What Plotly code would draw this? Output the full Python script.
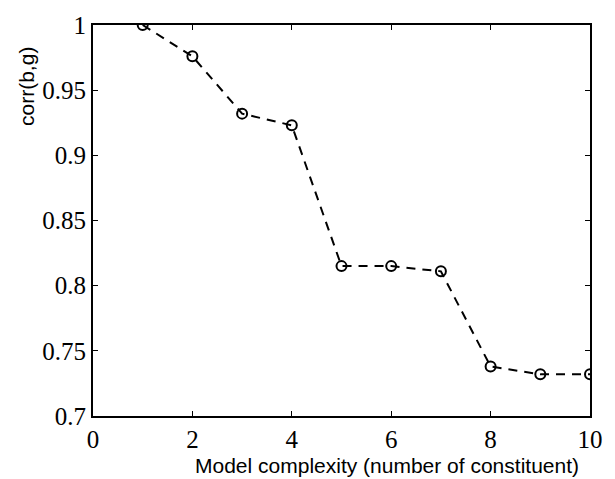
import plotly.graph_objects as go

complexity = [1, 2, 3, 4, 5, 6, 7, 8, 9, 10]
corr_bg = [1.0, 0.976, 0.932, 0.923, 0.815, 0.815, 0.811, 0.738, 0.732, 0.732]
x_ticks = [0, 2, 4, 6, 8, 10]
y_ticks = [0.7, 0.75, 0.8, 0.85, 0.9, 0.95, 1.0]
y_tick_text = ["0.7", "0.75", "0.8", "0.85", "0.9", "0.95", "1"]

W, H = 615, 479
L, R, T, B = 93, 13, 21, 63
pw, ph = W - L - R, H - T - B

fig = go.Figure()
fig.add_trace(go.Scatter(
    x=complexity, y=corr_bg, mode="lines+markers",
    line=dict(color="black", width=2, dash="9px,7px"),
    marker=dict(symbol="circle-open", size=10, color="black", line=dict(width=2, color="black")),
    cliponaxis=True, showlegend=False,
))

serif = "Times New Roman"
tickfont = dict(family=serif, size=25, color="black")
fig.update_layout(
    xaxis=dict(range=[0, 10], tickvals=x_ticks, ticktext=[str(v) for v in x_ticks],
               showgrid=False, zeroline=False, showline=True, linecolor="black", linewidth=2,
               mirror="ticks", ticks="inside", ticklen=5, tickwidth=1, tickcolor="black",
               tickfont=tickfont),
    yaxis=dict(range=[0.7, 1.0], tickvals=y_ticks, ticktext=y_tick_text,
               showgrid=False, zeroline=False, showline=True, linecolor="black", linewidth=2,
               mirror="ticks", ticks="inside", ticklen=5, tickwidth=1, tickcolor="black",
               tickfont=tickfont),
)

titlefont = dict(family="Liberation Sans, Arial, sans-serif", size=21, color="black")
fig.add_annotation(text="Model complexity (number of constituent)", xref="paper", yref="paper",
                   x=(394 - L) / pw, y=(T + ph - 466) / ph, xanchor="center", yanchor="middle",
                   showarrow=False, font=titlefont)
fig.add_annotation(text="corr(b,g)", xref="paper", yref="paper",
                   x=(25 - L) / pw, y=(T + ph - 83) / ph, xanchor="center", yanchor="middle",
                   textangle=-90, showarrow=False, font=titlefont)

fig.update_layout(width=W, height=H, margin=dict(l=L, r=R, t=T, b=B),
                  paper_bgcolor="white", plot_bgcolor="white")
fig.write_html("out.html")
